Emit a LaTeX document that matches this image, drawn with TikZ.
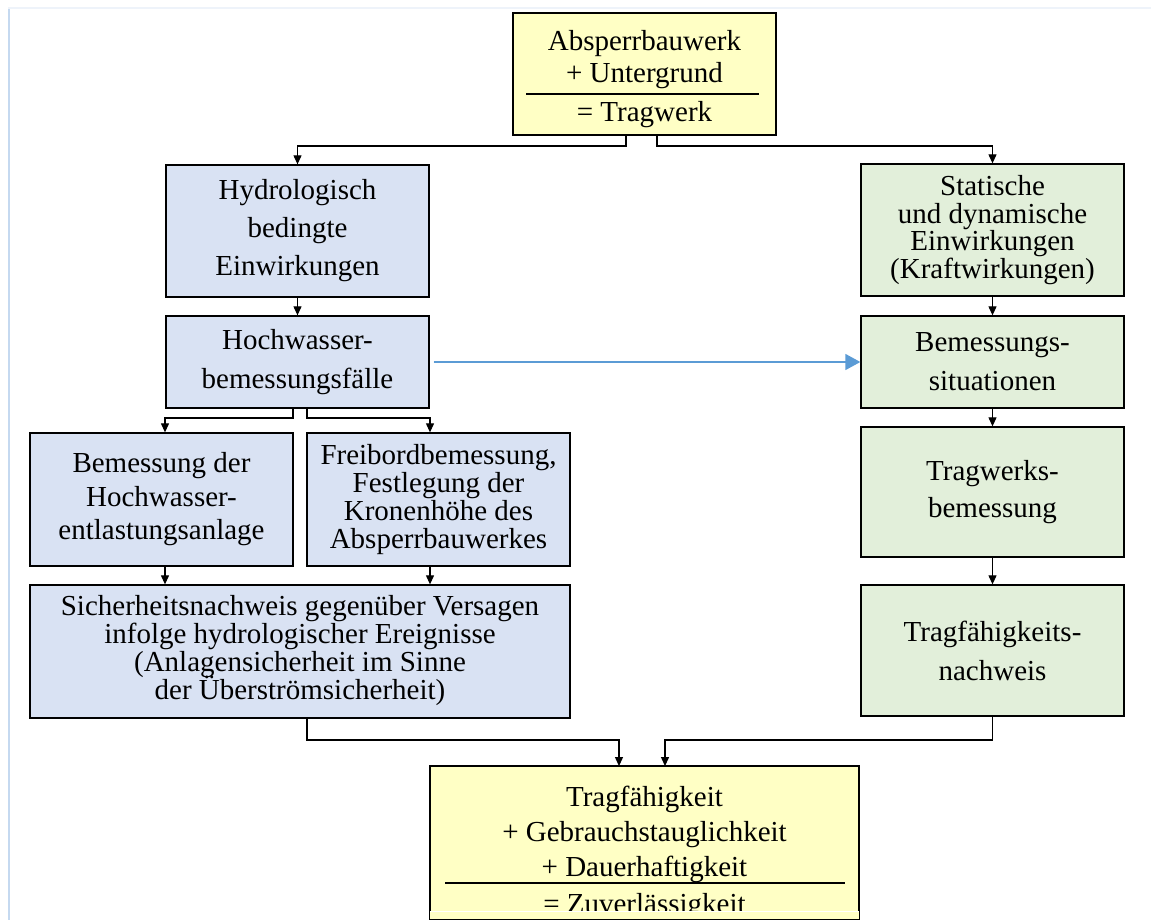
\documentclass[tikz,border=0pt]{standalone}
\usepackage{fontspec}
\setmainfont{Liberation Serif}
\usetikzlibrary{arrows.meta}
\definecolor{yel}{RGB}{255,255,197}
\definecolor{blu}{RGB}{217,226,243}
\definecolor{grn}{RGB}{226,239,218}
\definecolor{arrblue}{RGB}{91,155,213}
\definecolor{frameblue}{RGB}{197,217,240}
\definecolor{frametop}{RGB}{238,243,250}
\newcommand{\fsz}[1]{\fontsize{29pt}{#1pt}\selectfont\lineskiplimit=-100pt\lineskip=0pt}
\begin{document}
\begin{tikzpicture}[x=1pt,y=-1pt,
  box/.style={draw=black, line width=1.3pt, inner sep=0pt, align=center, minimum width=263pt},
  arr/.style={line width=1.1pt, -{Triangle[length=9pt,width=8pt]}},
  barr/.style={line width=1.5pt, draw=arrblue, fill=arrblue, -{Triangle[length=15pt,width=16pt]}}]
\useasboundingbox (0,0) rectangle (1151,920);
% page frame
\draw[frameblue, line width=2pt] (9,8) -- (9,920);
\draw[frametop, line width=1.5pt] (8,8) -- (1151,8);

% top box
\node[box, fill=yel, minimum height=122pt, font=\fsz{32}] (top) at (644.5,74)
  {\rule{0pt}{29.3pt}Absperrbauwerk\\+ Untergrund\\[7pt]= Tragwerk};
\draw[line width=1.3pt] (526,94) -- (759,94);

% left column
\node[box, fill=blu, minimum height=132pt, font=\fsz{38}] (hyd) at (297.5,231)
  {Hydrologisch\\bedingte\\Einwirkungen};
\node[box, fill=blu, minimum height=92pt, font=\fsz{39}] (hoch) at (297.5,362)
  {Hochwasser-\\bemessungsfälle};
\node[box, fill=blu, minimum height=133pt, font=\fsz{33.5}] (bem) at (161.5,499.5)
  {Bemessung der\\Hochwasser-\\entlastungsanlage};
\node[box, fill=blu, minimum height=133pt, font=\fsz{28}] (frei) at (438.5,499.5)
  {Freibordbemessung,\\Festlegung der\\Kronenhöhe des\\Absperrbauwerkes};
\node[box, fill=blu, minimum width=540pt, minimum height=133pt, font=\fsz{28}] (sich) at (300,651.5)
  {Sicherheitsnachweis gegenüber Versagen\\infolge hydrologischer Ereignisse\\(Anlagensicherheit im Sinne\\der Überströmsicherheit)\rule[-8pt]{0pt}{8pt}};

% right column
\node[box, fill=grn, minimum height=132pt, font=\fsz{27.5}] (stat) at (992.5,230)
  {Statische\\und dynamische\\Einwirkungen\\(Kraftwirkungen)};
\node[box, fill=grn, minimum height=92pt, font=\fsz{39}] (bsit) at (992.5,362)
  {Bemessungs-\\situationen};
\node[box, fill=grn, minimum height=130pt, font=\fsz{37}] (trw) at (992.5,492)
  {Tragwerks-\\bemessung};
\node[box, fill=grn, minimum height=131pt, font=\fsz{39}] (trn) at (992.5,650.5)
  {Tragfähigkeits-\\nachweis};

% bottom box (text clipped at the lower edge)
\begin{scope}
  \clip (420,760) rectangle (870,910.5);
  \node[box, fill=yel, minimum width=429pt, minimum height=150pt, font=\fsz{35}] (zuv) at (644.5,843)
    {\rule{0pt}{39.3pt}Tragfähigkeit\\+ Gebrauchstauglichkeit\\+ Dauerhaftigkeit\\[2pt]= Zuverlässigkeit};
\end{scope}
\fill[yel] (zuv.south west) rectangle ([yshift=7.5pt]zuv.south east);
\draw[line width=1.3pt] (zuv.south west) rectangle (zuv.north east);
\draw[line width=1.3pt] (445,883) -- (845,883);

% helper coordinates
\coordinate (j1) at (626,146);
\coordinate (j2) at (657,146);
\coordinate (j3) at (293,418);
\coordinate (j4) at (307,418);
\coordinate (j5) at (307,740);
\coordinate (j6) at (993,740);
\coordinate (xa) at (165,0);
\coordinate (xb) at (430,0);
\coordinate (xc) at (619,0);
\coordinate (xd) at (665,0);

% connectors
\draw[arr] (top.south -| j1) -- (j1) -| (hyd.north);
\draw[arr] (top.south -| j2) -- (j2) -| (stat.north);
\draw[arr] (hyd.south) -- (hoch.north);
\draw[arr] (hoch.south -| j3) -- (j3) -| (bem.north -| xa);
\draw[arr] (hoch.south -| j4) -- (j4) -| (frei.north -| xb);
\draw[arr] (bem.south -| xa) -- (sich.north -| xa);
\draw[arr] (frei.south -| xb) -- (sich.north -| xb);
\draw[arr] (sich.south -| j5) -- (j5) -| (zuv.north -| xc);
\draw[arr] (trn.south) -- (trn.south |- j6) -| (zuv.north -| xd);
\draw[arr] (stat.south) -- (bsit.north);
\draw[arr] (bsit.south) -- (trw.north);
\draw[arr] (trw.south) -- (trn.north);
\draw[barr, shorten <=4pt] (hoch.east) -- (bsit.west);
\end{tikzpicture}
\end{document}
